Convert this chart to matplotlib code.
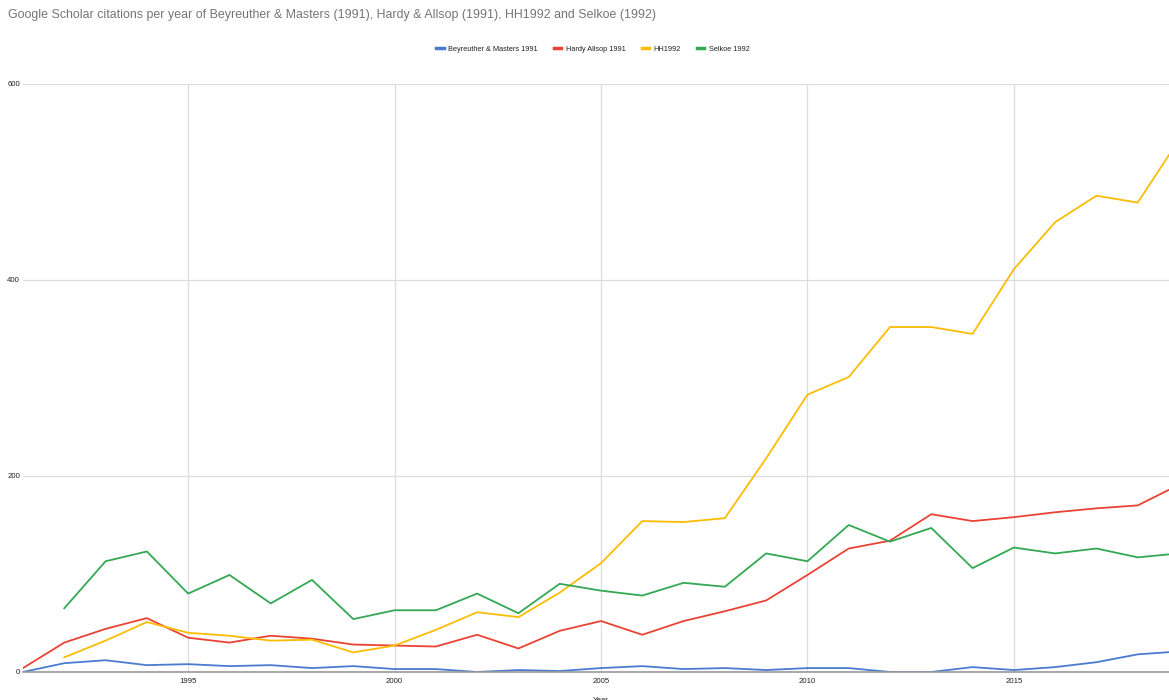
import numpy as np
import matplotlib
matplotlib.use("Agg")
import matplotlib.pyplot as plt

plt.rcParams['font.family'] = ['Liberation Sans', 'DejaVu Sans']

# Citation counts per year
years_all = list(range(1991, 2020))
years_92 = list(range(1992, 2020))

beyreuther = [0, 9, 12, 7, 8, 6, 7, 4, 6, 3,
              3, 0, 2, 1, 4, 6, 3, 4, 2, 4,
              4, 0, 0, 5, 2, 5, 10, 18, 21]
hardy = [4, 30, 44, 55, 35, 30, 37, 34, 28, 27,
         26, 38, 24, 42, 52, 38, 52, 62, 73, 99,
         126, 134, 161, 154, 158, 163, 167, 170, 191]
hh1992 = [15, 32, 51, 40, 37, 32, 33, 20, 27,
          43, 61, 56, 81, 111, 154, 153, 157, 218, 283,
          301, 352, 352, 345, 411, 459, 486, 479, 543]
selkoe = [65, 113, 123, 80, 99, 70, 94, 54, 63,
          63, 80, 60, 90, 83, 78, 91, 87, 121, 113,
          150, 133, 147, 106, 127, 121, 126, 117, 121]

labels = ["Beyreuther & Masters 1991", "Hardy Allsop 1991", "HH1992", "Selkoe 1992"]
colors = ["#4a7bd0", "#ea4335", "#fbbc04", "#34a853"]

fig = plt.figure(figsize=(11.69, 7.0), dpi=100)
# axes run slightly past the right edge, like the cropped original
ax = fig.add_axes([23 / 1169, 1 - 672 / 700, (1179 - 23) / 1169, (672 - 84) / 700])

ax.plot(years_all, beyreuther, color=colors[0], lw=1.3, label=labels[0])
ax.plot(years_all, hardy, color=colors[1], lw=1.3, label=labels[1])
ax.plot(years_92, hh1992, color=colors[2], lw=1.3, label=labels[2])
ax.plot(years_92, selkoe, color=colors[3], lw=1.3, label=labels[3])

ax.set_xlim(1991, 2019)
ax.set_ylim(0, 600)
ax.set_xticks([1995, 2000, 2005, 2010, 2015])
ax.set_yticks([0, 200, 400, 600])
ax.grid(True, color="#dddddd", lw=0.9)
ax.set_axisbelow(True)
for s in ["top", "right", "left"]:
    ax.spines[s].set_visible(False)
ax.spines["bottom"].set_color("#999999")
ax.spines["bottom"].set_linewidth(1.2)
ax.tick_params(length=0, labelsize=5.6, colors="#222222", pad=4)
ax.tick_params(axis="y", pad=2)
ax.set_xlabel("Year", fontsize=5.6, color="#222222", labelpad=9)

fig.text(8 / 1169, 1 - 15 / 700, "Google Scholar citations per year of Beyreuther & Masters (1991), "
         "Hardy & Allsop (1991), HH1992 and Selkoe (1992)",
         fontsize=8.9, color="#757575", va="center", ha="left")

leg = fig.legend(loc="center", bbox_to_anchor=(593 / 1169, 1 - 49 / 700), ncol=4,
                 frameon=False, fontsize=5.3, handlelength=1.0, handletextpad=0.6,
                 columnspacing=2.2)
for line in leg.get_lines():
    line.set_linewidth(2.5)
for t in leg.get_texts():
    t.set_color("#222222")

fig.savefig("out.png", dpi=100)
